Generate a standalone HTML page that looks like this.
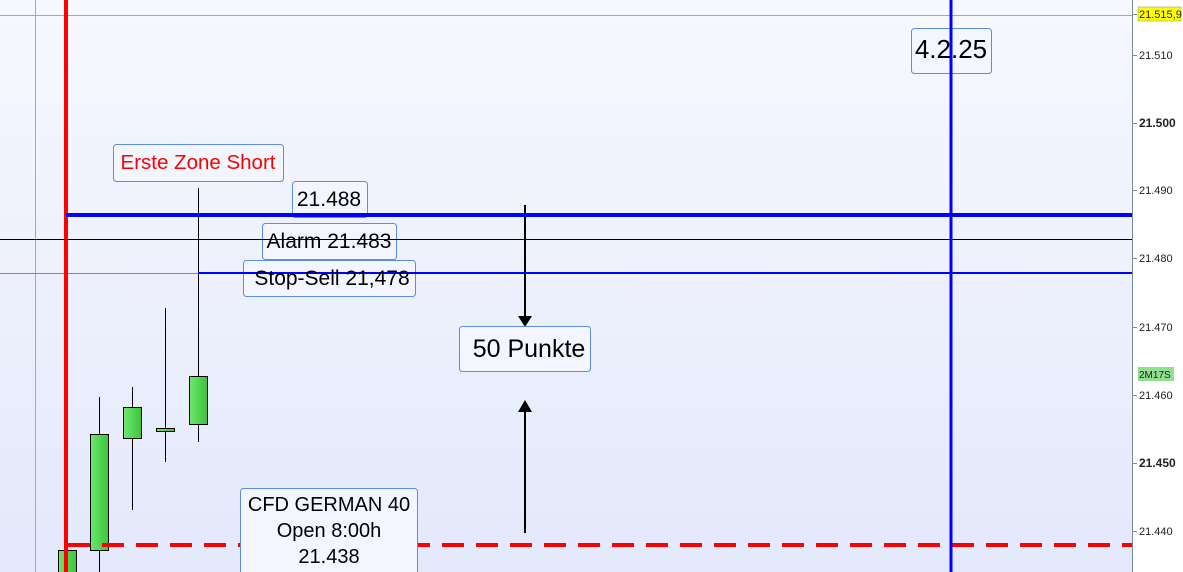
<!DOCTYPE html>
<html><head><meta charset="utf-8"><style>
html,body{margin:0;padding:0;width:1183px;height:572px;overflow:hidden;background:#fff}
svg{display:block}
text{font-family:"Liberation Sans",Arial,sans-serif}
</style></head><body>
<svg width="1183" height="572" viewBox="0 0 1183 572" xmlns="http://www.w3.org/2000/svg">
<defs>
<linearGradient id="bg" x1="0" y1="0" x2="0" y2="1">
<stop offset="0" stop-color="#f7f8fe"/><stop offset="1" stop-color="#e3e9fb"/></linearGradient>
<linearGradient id="cg" x1="0" y1="0" x2="1" y2="0">
<stop offset="0" stop-color="#6de86d"/><stop offset="1" stop-color="#3cc43c"/></linearGradient>
</defs>
<rect x="0" y="0" width="1132" height="572" fill="url(#bg)"/>
<rect x="1132" y="0" width="51" height="572" fill="#fff"/>
<line x1="1132.5" y1="0" x2="1132.5" y2="572" stroke="#7a8a9a" stroke-width="1"/>
<line x1="0" y1="15.5" x2="1132" y2="15.5" stroke="#f08a8a" stroke-width="1"/>
<line x1="35.5" y1="0" x2="35.5" y2="572" stroke="#f08a8a" stroke-width="1"/>
<line x1="0" y1="273.5" x2="198" y2="273.5" stroke="#888" stroke-width="1"/>
<!-- candles -->
<g stroke="#000" stroke-width="1">
<line x1="99.5" y1="397" x2="99.5" y2="572"/>
<line x1="132.5" y1="387" x2="132.5" y2="510"/>
<line x1="165.5" y1="308" x2="165.5" y2="462"/>
<line x1="198.5" y1="188" x2="198.5" y2="442"/>
<rect x="58.5" y="550.5" width="18" height="25" fill="url(#cg)"/>
<rect x="90.5" y="434.5" width="18" height="116" fill="url(#cg)"/>
<rect x="123.5" y="407.5" width="18" height="31" fill="url(#cg)"/>
<rect x="156.5" y="428.5" width="18" height="3" fill="url(#cg)"/>
<rect x="189.5" y="376.5" width="18" height="48" fill="url(#cg)"/>
</g>
<line x1="66" y1="0" x2="66" y2="572" stroke="#ff0000" stroke-width="4"/>
<line x1="68" y1="545" x2="1132" y2="545" stroke="#ff0000" stroke-width="4" stroke-dasharray="22,12"/>
<!-- arrows -->
<line x1="525" y1="205" x2="525" y2="318" stroke="#000" stroke-width="2"/>
<polygon points="518,316 532,316 525,327" fill="#000"/>
<line x1="525" y1="533" x2="525" y2="410" stroke="#000" stroke-width="2"/>
<polygon points="518,412 532,412 525,400" fill="#000"/>
<!-- labels -->
<g fill="#f3f6fe" stroke="#5b8de0" stroke-width="1">
<rect x="113.5" y="144.5" width="170" height="37" rx="3"/>
<rect x="292.5" y="181.5" width="75" height="36" rx="3"/>
<rect x="262.5" y="223.5" width="134" height="36" rx="3"/>
<rect x="243.5" y="260.5" width="172" height="36" rx="3"/>
<rect x="459.5" y="326.5" width="131" height="45" rx="3"/>
<rect x="911.5" y="28.5" width="80" height="45" rx="3"/>
<rect x="240.5" y="488.5" width="177" height="90" rx="3"/>
</g>
<line x1="0" y1="239.5" x2="1132" y2="239.5" stroke="#000" stroke-width="1"/>
<line x1="198" y1="273" x2="1132" y2="273" stroke="#0000ff" stroke-width="2"/>
<line x1="66" y1="215" x2="1132" y2="215" stroke="#0000ff" stroke-width="4"/>
<line x1="951" y1="0" x2="951" y2="572" stroke="#0000ff" stroke-width="3"/>
<g font-size="21" text-anchor="middle" fill="#000">
<text x="198" y="169" fill="#ff0000" font-size="20.5">Erste Zone Short</text>
<text x="329" y="206">21.488</text>
<text x="329" y="248">Alarm 21.483</text>
<text x="332" y="285">Stop-Sell 21,478</text>
<text x="529" y="357" font-size="25">50 Punkte</text>
<text x="951" y="58" font-size="26">4.2.25</text>
<text x="329" y="511" font-size="20">CFD GERMAN 40</text>
<text x="329" y="537" font-size="20">Open 8:00h</text>
<text x="329" y="563" font-size="20">21.438</text>
</g>
<!-- axis -->
<g stroke="#7a8a9a" stroke-width="1">
<line x1="1132" y1="14.5" x2="1137" y2="14.5"/>
<line x1="1132" y1="55.5" x2="1137" y2="55.5"/>
<line x1="1132" y1="123.5" x2="1137" y2="123.5"/>
<line x1="1132" y1="190.5" x2="1137" y2="190.5"/>
<line x1="1132" y1="258.5" x2="1137" y2="258.5"/>
<line x1="1132" y1="327.5" x2="1137" y2="327.5"/>
<line x1="1132" y1="395.5" x2="1137" y2="395.5"/>
<line x1="1132" y1="463.5" x2="1137" y2="463.5"/>
<line x1="1132" y1="531.5" x2="1137" y2="531.5"/>
</g>
<rect x="1138" y="7" width="43" height="14" fill="#ffff00" stroke="#888" stroke-width="0.5"/>
<rect x="1138" y="367" width="36" height="14" fill="#8fe08f"/>
<g font-size="11" fill="#222">
<text x="1139" y="18">21.515,9</text>
<text x="1139" y="59">21.510</text>
<text x="1139" y="127" font-weight="bold" font-size="12">21.500</text>
<text x="1139" y="194">21.490</text>
<text x="1139" y="262">21.480</text>
<text x="1139" y="331">21.470</text>
<text x="1139" y="378" font-size="10">2M17S</text>
<text x="1139" y="399">21.460</text>
<text x="1139" y="467" font-weight="bold" font-size="12">21.450</text>
<text x="1139" y="535">21.440</text>
</g>
</svg>
</body></html>
